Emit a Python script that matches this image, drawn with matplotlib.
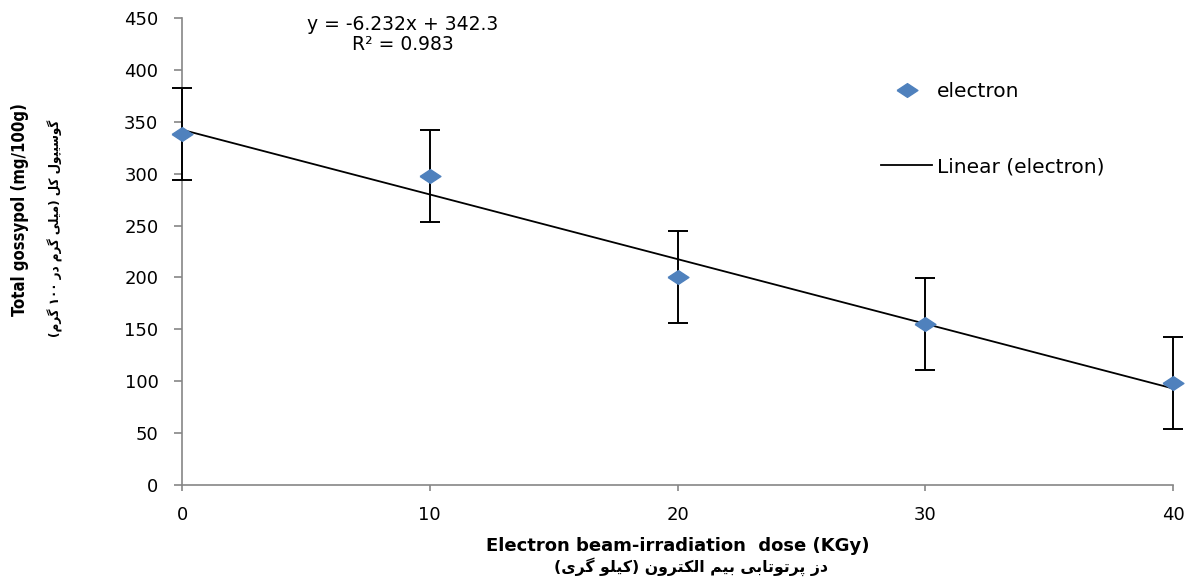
import re
import numpy as np
import matplotlib as mpl
mpl.use('Agg')
import matplotlib.pyplot as plt

# data
dose = [0, 10, 20, 30, 40]
gossypol = [338, 298, 200.5, 155, 98.5]
err = [44.5, 44.5, 44.5, 44, 44.5]
slope, icpt = -6.232, 342.3

xlab_en = 'Electron beam-irradiation  dose (KGy)'
xlab_fa = 'دز پرتوتابی بیم الکترون (کیلو گری)'
ylab_en = 'Total gossypol (mg/100g)'
ylab_fa = 'گوسیپول کل (میلی گرم در ۱۰۰ گرم)'

# arabic presentation forms: isolated, final, initial, medial
FORMS = {
    'ا': ('\uFE8D', '\uFE8E', None, None),
    'د': ('\uFEA9', '\uFEAA', None, None),
    'ر': ('\uFEAD', '\uFEAE', None, None),
    'ز': ('\uFEAF', '\uFEB0', None, None),
    'و': ('\uFEED', '\uFEEE', None, None),
    'ب': ('\uFE8F', '\uFE90', '\uFE91', '\uFE92'),
    'ت': ('\uFE95', '\uFE96', '\uFE97', '\uFE98'),
    'س': ('\uFEB1', '\uFEB2', '\uFEB3', '\uFEB4'),
    'ل': ('\uFEDD', '\uFEDE', '\uFEDF', '\uFEE0'),
    'م': ('\uFEE1', '\uFEE2', '\uFEE3', '\uFEE4'),
    'ن': ('\uFEE5', '\uFEE6', '\uFEE7', '\uFEE8'),
    'پ': ('\uFB56', '\uFB57', '\uFB58', '\uFB59'),
    'ک': ('\uFB8E', '\uFB8F', '\uFB90', '\uFB91'),
    'گ': ('\uFB92', '\uFB93', '\uFB94', '\uFB95'),
    'ی': ('\uFBFC', '\uFBFD', '\uFBFE', '\uFBFF'),
}

def rtl(s):
    out = []
    for i, c in enumerate(s):
        if c not in FORMS:
            out.append(c)
            continue
        prev = s[i-1] if i > 0 else ''
        nxt = s[i+1] if i+1 < len(s) else ''
        jp = prev in FORMS and FORMS[prev][2] is not None
        jn = FORMS[c][2] is not None and nxt in FORMS
        iso, fin, ini, med = FORMS[c]
        if jp and jn:
            out.append(med)
        elif jp:
            out.append(fin)
        elif jn:
            out.append(ini)
        else:
            out.append(iso)
    toks = re.findall(r'[۰-۹0-9]+|.', ''.join(out))
    vis = ''.join(toks[::-1])
    return vis.translate(str.maketrans('()', ')('))

W, H = 1192, 577
fig = plt.figure(figsize=(W/100, H/100), dpi=100)
ax = fig.add_axes([182/W, 1-485/H, (1173-182)/W, (485-18)/H])

grey = '#868686'
blue = '#4F81BD'

xx = np.array([dose[0], dose[-1]])
ax.plot(xx, slope*xx + icpt, color='k', lw=1.3, label='Linear (electron)', zorder=2)
ax.errorbar(dose, gossypol, yerr=err, fmt='none', ecolor='k', elinewidth=1.4,
            capsize=7, capthick=1.4, zorder=3)
diamond = [(-1, 0), (0, 0.66), (1, 0), (0, -0.66), (-1, 0)]
ax.plot(dose, gossypol, ls='none', marker=diamond, ms=15, color=blue,
        mec=blue, label='electron', zorder=4)

ax.set_xlim(0, 40)
ax.set_ylim(0, 450)
ax.set_xticks(dose)
ax.set_yticks(np.arange(0, 451, 50))
for s in ['top', 'right']:
    ax.spines[s].set_visible(False)
for s in ['left', 'bottom']:
    ax.spines[s].set_color(grey)
    ax.spines[s].set_linewidth(1.2)
ax.tick_params(axis='y', direction='out', length=6, width=1.2, color=grey,
               labelsize=13, pad=11)
ax.tick_params(axis='x', direction='out', length=4, width=1.2, color=grey,
               labelsize=13, pad=11)
for a in ax.get_children():
    if hasattr(a, 'set_clip_on'):
        a.set_clip_on(False)

fig.text(403/W, 1-25/H, 'y = -6.232x + 342.3', ha='center', va='center',
         fontsize=13.5)
fig.text(403/W, 1-44/H, 'R² = 0.983', ha='center', va='center', fontsize=13.5)

h, l = ax.get_legend_handles_labels()
ax.legend(h[::-1], l[::-1], loc='upper left', bbox_to_anchor=(881/W, 1-82/H),
          bbox_transform=fig.transFigure, frameon=False, fontsize=14.5,
          borderpad=0, borderaxespad=0, handlelength=2.55, handletextpad=0.22,
          labelspacing=2.8)

fig.text(678/W, 1-546/H, xlab_en, ha='center', va='center', fontsize=13,
         fontweight='bold')
fig.text(691/W, 1-567/H, rtl(xlab_fa), ha='center', va='center', fontsize=11.3,
         fontweight='bold', family='DejaVu Sans')
fig.text(20/W, 1-210/H, ylab_en, ha='center', va='center', rotation=90,
         fontsize=12, fontweight='bold', family='DejaVu Sans', stretch='condensed')
fig.text(55/W, 1-228/H, rtl(ylab_fa), ha='center', va='center', rotation=90,
         fontsize=9.5, fontweight='bold', family='DejaVu Sans', stretch='condensed')

fig.savefig('out.png', dpi=100)
plt.close()
